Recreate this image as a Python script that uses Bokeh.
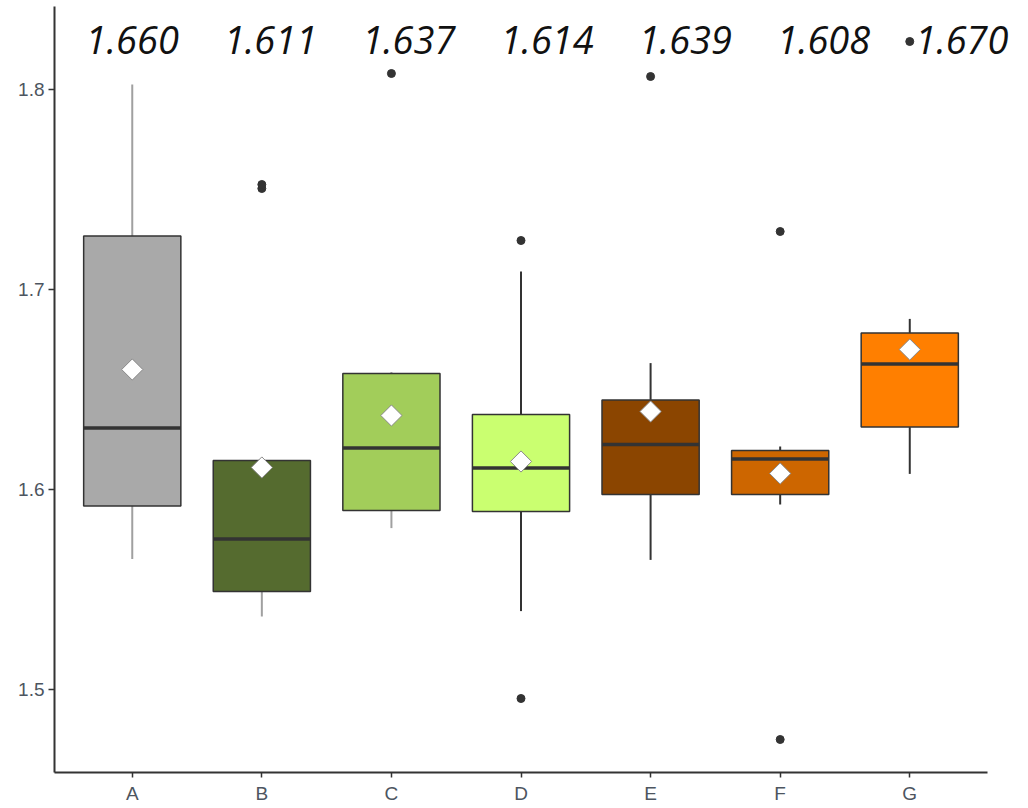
import numpy as np
from bokeh.plotting import figure
from bokeh.models import ColumnDataSource, FixedTicker, Range1d, LabelSet
from bokeh.core.properties import value
from bokeh.embed import file_html
from bokeh.resources import INLINE

# ---- data ----
categories = ["A", "B", "C", "D", "E", "F", "G"]
q1 = [1.5917, 1.5490, 1.5895, 1.5890, 1.5975, 1.5975, 1.6312]
medians = [1.6308, 1.5753, 1.6207, 1.6108, 1.6225, 1.6153, 1.6628]
q3 = [1.7267, 1.6145, 1.6580, 1.6375, 1.6448, 1.6195, 1.6783]
whisker_low = [1.5653, 1.5365, 1.5807, 1.5392, 1.5648, 1.5925, 1.6078]
whisker_high = [1.8025, 1.6145, 1.6587, 1.7090, 1.6632, 1.6215, 1.6853]
means = [1.660, 1.611, 1.637, 1.614, 1.639, 1.608, 1.670]
mean_labels = ["1.660", "1.611", "1.637", "1.614", "1.639", "1.608", "1.670"]
outlier_cats = ["B", "B", "C", "D", "D", "E", "F", "F", "G"]
outlier_vals = [1.7505, 1.7525, 1.8080, 1.7245, 1.4955, 1.8065, 1.7290, 1.4750, 1.8240]
fill_colors = ["#A9A9A9", "#556B2F", "#A2CD5A", "#CAFF70", "#8B4500", "#CD6600", "#FF7F00"]
whisker_colors = ["#A0A0A0", "#A0A0A0", "#A0A0A0", "#333333", "#333333", "#333333", "#333333"]
y_ticks = [1.5, 1.6, 1.7, 1.8]

# ---- layout constants ----
BOX_W = 0.75
LABEL_Y = 1.818
LABEL_SPREAD = 1.067
X_AXIS_BOUNDS = (0.4, 7.6)

xpos = np.arange(1, len(categories) + 1, dtype=float)
cat_index = {c: i + 1 for i, c in enumerate(categories)}

box_src = ColumnDataSource(dict(
    x=xpos, q1=q1, q3=q3, med=medians, lo=whisker_low, hi=whisker_high,
    fill=fill_colors, wcol=whisker_colors, mean=means,
    mx0=xpos - BOX_W / 2, mx1=xpos + BOX_W / 2,
))

# frame extends a bit right of the x-axis line so the last label is not clipped
p = figure(frame_width=968, frame_height=766, output_backend="svg", toolbar_location=None,
           x_range=Range1d(0.4, 7.87), y_range=Range1d(1.4585, 1.8415),
           min_border_left=54, min_border_right=2, min_border_top=6, min_border_bottom=0)

p.background_fill_color = "white"
p.border_fill_color = "white"
p.outline_line_color = None
p.xgrid.visible = False
p.ygrid.visible = False

# whiskers
p.segment(x0="x", y0="q3", x1="x", y1="hi", source=box_src, line_color="wcol", line_width=2)
p.segment(x0="x", y0="lo", x1="x", y1="q1", source=box_src, line_color="wcol", line_width=2)
# boxes
p.vbar(x="x", width=BOX_W, bottom="q1", top="q3", source=box_src,
       fill_color="fill", line_color="#333333", line_width=1.5)
# medians
p.segment(x0="mx0", y0="med", x1="mx1", y1="med", source=box_src,
          line_color="#333333", line_width=3.5)
# means
p.scatter(x="x", y="mean", source=box_src, marker="square", angle=np.pi / 4,
          size=15, fill_color="white", line_color="#8a8a8a", line_width=1)
# outliers
p.scatter(x=[cat_index[c] for c in outlier_cats], y=outlier_vals, size=8,
          fill_color="#333333", line_color="#333333")
# mean labels
label_src = ColumnDataSource(dict(
    x=1 + (xpos - 1) * LABEL_SPREAD, y=[LABEL_Y] * len(mean_labels), text=mean_labels))
p.add_layout(LabelSet(x="x", y="y", text="text", source=label_src,
                      text_font=value("Open Sans"), text_font_style="italic",
                      text_font_size="38px", text_color="#111111",
                      text_align="center", text_baseline="alphabetic"))

# axes
for ax in (p.xaxis[0], p.yaxis[0]):
    ax.axis_line_color = "#333333"
    ax.axis_line_width = 2
    ax.major_tick_line_color = "#333333"
    ax.major_tick_line_width = 1.5
    ax.major_tick_in = 0
    ax.minor_tick_line_color = None
    ax.major_label_text_color = "#4d5560"
    ax.major_label_text_font = "Liberation Sans"
    ax.major_label_text_font_size = "19px"

p.xaxis.ticker = FixedTicker(ticks=list(xpos))
p.xaxis.major_label_overrides = {float(v): c for v, c in zip(xpos, categories)}
p.xaxis.bounds = X_AXIS_BOUNDS
p.xaxis.major_tick_out = 5
p.xaxis.major_label_standoff = 5
p.yaxis.ticker = FixedTicker(ticks=y_ticks)
p.yaxis.major_tick_out = 6
p.yaxis.major_label_standoff = 4

open("out.html", "w").write(file_html(p, INLINE))
